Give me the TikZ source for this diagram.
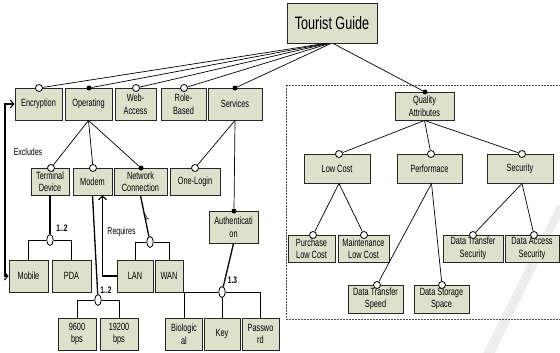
\documentclass[tikz,border=0pt]{standalone}
\usepackage{fontspec}
\setmainfont[FakeStretch=0.7]{Liberation Sans}
\usetikzlibrary{shapes.geometric,arrows.meta}
\definecolor{boxfill}{RGB}{221,224,203}
\tikzset{
  fbox/.style={draw=black!85, line width=0.9pt, fill=boxfill, inner sep=0pt, align=center, font=\fontsize{10.5}{12.5}\selectfont},
  oc/.style={circle, draw, fill=white, line width=0.8pt, minimum size=7pt, inner sep=0pt},
  fc/.style={circle, fill=black, minimum size=5pt, inner sep=0pt},
  grp/.style={ellipse, draw, fill=white, line width=0.8pt, minimum width=6.5pt, minimum height=11pt, inner sep=0pt},
  ln/.style={line width=0.7pt},
  tk/.style={line width=1.3pt},
  card/.style={font=\fontsize{9.5}{10}\selectfont\bfseries, inner sep=0pt},
  lbl/.style={font=\fontsize{10}{11}\selectfont, inner sep=0pt},
  rel/.style={line width=1.1pt},
  barb/.tip={Straight Barb[length=3.5pt,width=8pt,line width=1.1pt]}
}
\begin{document}
\begin{tikzpicture}[x=1pt,y=-1pt]
\useasboundingbox (0,0) rectangle (560,353);
% watermark stroke
\fill[gray!14] (558,204) -- (564,209) -- (495,353) -- (483,353) -- cycle;
% dashed frame
\draw[draw=black!70, line width=0.7pt, dash pattern=on 2pt off 1pt] (286,85) rectangle (566,319);

% boxes
\node[fbox, minimum width=90pt, minimum height=40pt, font=\fontsize{18}{20}\selectfont] (tg) at (332,23) {Tourist Guide};
\node[fbox, minimum width=47pt, minimum height=32pt] (enc) at (38.5,104) {Encryption};
\node[fbox, minimum width=47pt, minimum height=32pt] (op) at (88.5,104) {Operating};
\node[fbox, minimum width=41pt, minimum height=32pt] (web) at (135.5,104) {Web-\\Access};
\node[fbox, minimum width=45pt, minimum height=32pt] (role) at (183.5,104) {Role-\\Based};
\node[fbox, minimum width=54pt, minimum height=32pt] (serv) at (235,104) {Services};
\node[fbox, minimum width=38pt, minimum height=27pt] (term) at (50,181.5) {Terminal\\Device};
\node[fbox, minimum width=39pt, minimum height=27pt] (modem) at (92.5,181.5) {Modem};
\node[fbox, minimum width=53pt, minimum height=27pt] (net) at (140.5,181.5) {Network\\Connection};
\node[fbox, minimum width=50pt, minimum height=27pt] (one) at (195,181.5) {One-Login};
\node[fbox, minimum width=49pt, minimum height=32pt] (auth) at (233.5,227) {Authenticati\\on};
\node[fbox, minimum width=39pt, minimum height=32pt] (mobile) at (28.5,276) {Mobile};
\node[fbox, minimum width=39pt, minimum height=32pt] (pda) at (71.5,276) {PDA};
\node[fbox, minimum width=36pt, minimum height=32pt] (lan) at (135,276) {LAN};
\node[fbox, minimum width=28pt, minimum height=32pt] (wan) at (169,276) {WAN};
\node[fbox, minimum width=38pt, minimum height=32pt] (n96) at (77,334) {9600\\bps};
\node[fbox, minimum width=38pt, minimum height=32pt] (n192) at (119,334) {19200\\bps};
\node[fbox, minimum width=37pt, minimum height=32pt] (bio) at (184,334) {Biologic\\al};
\node[fbox, minimum width=36pt, minimum height=32pt] (key) at (222,334) {Key};
\node[fbox, minimum width=37pt, minimum height=32pt] (pw) at (260.5,334) {Passwo\\rd};
\node[fbox, minimum width=59pt, minimum height=28pt] (qa) at (424.5,106) {Quality\\Attributes};
\node[fbox, minimum width=66pt, minimum height=29pt] (lc) at (337,168.5) {Low Cost};
\node[fbox, minimum width=65pt, minimum height=29pt] (perf) at (429.5,168.5) {Performace};
\node[fbox, minimum width=66pt, minimum height=29pt] (sec) at (520,168.5) {Security};
\node[fbox, minimum width=47pt, minimum height=27pt] (pur) at (311.5,248.5) {Purchase\\Low Cost};
\node[fbox, minimum width=51pt, minimum height=27pt] (mnt) at (363.5,248.5) {Maintenance\\Low Cost};
\node[fbox, minimum width=55pt, minimum height=28pt] (dtsp) at (375.5,299) {Data Transfer\\Speed};
\node[fbox, minimum width=55pt, minimum height=28pt] (dss) at (441.5,299) {Data Storage\\Space};
\node[fbox, minimum width=60pt, minimum height=27pt] (dtsec) at (473,248.5) {Data Transfer\\Security};
\node[fbox, minimum width=54pt, minimum height=27pt] (das) at (532,248.5) {Data Access\\Security};

% feature markers
\node[oc] (cenc) at (39,88) {};
\node[fc] (cop) at (89,88) {};
\node[oc] (cweb) at (136,88) {};
\node[oc] (crole) at (184,88) {};
\node[fc] (cserv) at (235,88) {};
\node[oc] (cterm) at (51,168) {};
\node[oc] (cmodem) at (93,168) {};
\node[fc] (cnet) at (141,168) {};
\node[oc] (cone) at (195,168) {};
\node[fc] (cauth) at (234,211) {};
\node[fc] (cqa) at (425,92) {};
\node[oc] (clc) at (339,154) {};
\node[oc] (cperf) at (431,154) {};
\node[oc] (csec) at (522,154) {};
\node[oc] (cpur) at (313,235) {};
\node[oc] (cmnt) at (364,235) {};
\node[oc] (cdtsp) at (377,285) {};
\node[oc] (cdss) at (442,285) {};
\node[oc] (cdtsec) at (473,235) {};
\node[oc] (cdas) at (534,235) {};

% group markers
\node[grp] (g1) at (50,240) {};
\node[grp] (g2) at (98,300) {};
\node[grp] (g3) at (150,242) {};
\node[grp] (g4) at (222,292) {};

% root connectors
\draw[ln] ([xshift=-7pt]tg.south) -- (cenc);
\draw[ln] ([xshift=-5.5pt]tg.south) -- (cop);
\draw[ln] ([xshift=-4pt]tg.south) -- (cweb);
\draw[ln] ([xshift=-2.5pt]tg.south) -- (crole);
\draw[ln] ([xshift=-1pt]tg.south) -- (cserv);
\draw[ln] ([xshift=1pt]tg.south) -- (cqa);

% operating
\draw[ln] (op.south) -- (cterm);
\draw[ln] (op.south) -- (cmodem);
\draw[ln] (op.south) -- (cnet);
% services
\draw[ln] (serv.south) -- (cone);
\draw[ln] (serv.south) -- (cauth);
% quality
\draw[ln] (qa.south) -- (clc);
\draw[ln] (qa.south) -- (cperf);
\draw[ln] (qa.south) -- (csec);
\draw[ln] ([xshift=2pt]lc.south) -- (cpur);
\draw[ln] ([xshift=2pt]lc.south) -- (cmnt);
\draw[ln] ([xshift=2pt]perf.south) -- (cdtsp);
\draw[ln] ([xshift=2pt]perf.south) -- (cdss);
\draw[ln] ([xshift=2pt]sec.south) -- (cdtsec);
\draw[ln] ([xshift=2pt]sec.south) -- (cdas);

% groups
\draw[tk] (term.south) -- (g1.north);
\draw[ln] (mobile.north) |- (g1.west);
\draw[ln] (g1.east) -| (pda.north);
\draw[tk] (modem.south) -- (g2);
\draw[ln] (n96.north) |- (g2.west);
\draw[ln] (g2.east) -| (n192.north);
\draw[tk] (net.south) -- (g3);
\draw[ln] (lan.north) |- (g3.west);
\draw[ln] (g3.east) -| (wan.north);
\draw[tk] (auth.south) -- (g4);
\draw[ln] (bio.north) |- (g4.west);
\draw[ln] (g4.east) -| (pw.north);
\draw[ln] (g4.south) -- (key.north);

% cardinalities
\node[card] (k1) at (62,228) {1..2};
\node[card] (k2) at (106,290) {1..2};
\node[card] (k4) at (232.5,280) {1.3};
\node[font=\fontsize{10}{11}\selectfont, inner sep=0pt, rotate=28] (k3) at (146,217) {1};

% relations
\coordinate (exc) at (5,190);
\draw[rel, barb-barb] (enc.west) -| (exc) |- (mobile.west);
\node[lbl] (exlbl) at (28,152) {Excludes};
\draw[rel, -barb] (lan.west) -| ([xshift=10pt]modem.south);
\node[lbl] (reqlbl) at (121.5,232) {Requires};
\end{tikzpicture}
\end{document}
